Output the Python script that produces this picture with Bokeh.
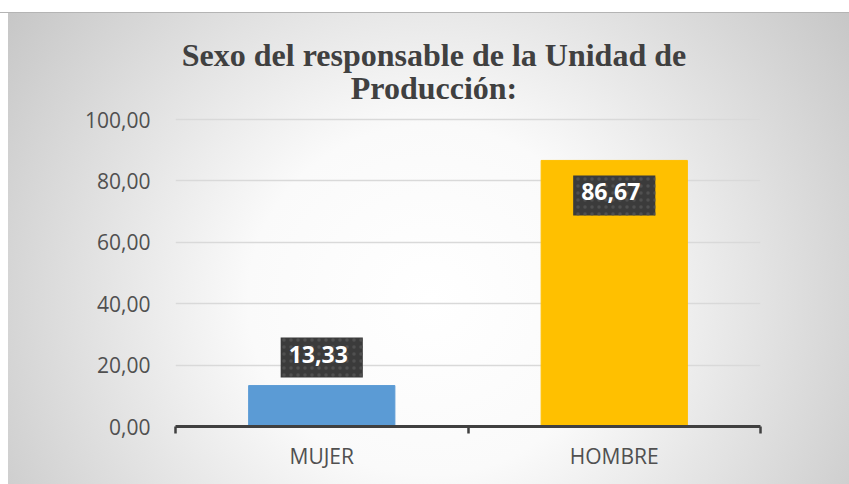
from bokeh.plotting import figure
from bokeh.models import Range1d, FixedTicker, Label, ColumnDataSource, GlobalInlineStyleSheet
from bokeh.embed import file_html
from bokeh.resources import INLINE

categories = ["MUJER", "HOMBRE"]
values = [13.33, 86.67]
y_ticks = [0, 20, 40, 60, 80, 100]
bar_colors = ["#5B9BD5", "#FFC000"]
title_lines = ["Sexo del responsable de la Unidad de", "Producción:"]


def fmt(v):
    return f"{v:.2f}".replace(".", ",")


y_max = y_ticks[-1]
x_pos = [i + 0.5 for i in range(len(categories))]

# frame spans from y=20px (top) to y=426px; the value 100 sits at y=119px
y_top = y_max * (426 - 20) / (426 - 119)

bg = ("linear-gradient(to bottom, #ffffff 0px, #ffffff 12px, #b4b4b4 12px, #b4b4b4 13px, transparent 13px), "
      "linear-gradient(to right, #ffffff 0px, #ffffff 8px, transparent 8px), "
      "radial-gradient(ellipse 520px 500px at 430px 300px, #ffffff 0%, #fafafa 35%, #c6c6c6 100%)")

page_css = GlobalInlineStyleSheet(
    css="html, body { margin: 0 !important; padding: 0 !important; overflow: hidden !important; "
        "scrollbar-width: none !important; } ::-webkit-scrollbar { display: none; width: 0; height: 0; }")

p = figure(width=849, height=484, output_backend="svg", toolbar_location=None,
           x_range=Range1d(0, len(categories)), y_range=Range1d(0, y_top),
           min_border_left=175, min_border_right=89, min_border_top=20, min_border_bottom=58,
           background_fill_color=None, border_fill_color=None, outline_line_color=None,
           styles={"background": bg, "position": "absolute", "top": "0px", "left": "0px"},
           stylesheets=[page_css])

src = ColumnDataSource(dict(x=x_pos, top=values, color=bar_colors))
p.vbar(x="x", top="top", width=0.5, color="color", source=src)

# title as two labels above the value area
x_mid = len(categories) / 2
for line, off in zip(title_lines, (65, 32)):
    p.add_layout(Label(x=x_mid, y=y_max, x_offset=-34, y_offset=off, text=line,
                       text_align="center", text_baseline="alphabetic",
                       text_font="Liberation Serif", text_font_style="bold",
                       text_font_size="32px", text_color="#404040"))

# grid
p.xgrid.grid_line_color = None
p.ygrid.ticker = FixedTicker(ticks=y_ticks)
p.ygrid.grid_line_color = "#d9d9d9"
p.ygrid.grid_line_width = 1.5

# y axis
p.yaxis.ticker = FixedTicker(ticks=y_ticks)
p.yaxis.major_label_overrides = {t: fmt(t) for t in y_ticks}
p.yaxis.axis_line_color = None
p.yaxis.major_tick_line_color = None
p.yaxis.minor_tick_line_color = None
p.yaxis.major_label_standoff = 19
p.yaxis.major_label_text_font = "Open Sans"
p.yaxis.major_label_text_font_size = "21px"
p.yaxis.major_label_text_color = "#505050"

# x axis
p.xaxis.ticker = FixedTicker(ticks=x_pos, minor_ticks=list(range(len(categories) + 1)))
p.xaxis.major_label_overrides = {x: c for x, c in zip(x_pos, categories)}
p.xaxis.major_tick_line_color = None
p.xaxis.minor_tick_in = 0
p.xaxis.minor_tick_out = 7
p.xaxis.minor_tick_line_color = "#404040"
p.xaxis.minor_tick_line_width = 2.5
p.xaxis.axis_line_color = "#404040"
p.xaxis.axis_line_width = 3
p.xaxis.major_label_standoff = 8
p.xaxis.major_label_text_font = "Open Sans"
p.xaxis.major_label_text_font_size = "21px"
p.xaxis.major_label_text_color = "#505050"

# data labels
for xv, v in zip(x_pos, values):
    inside = v > 0.8 * y_max
    off = -35 if inside else 28
    common = dict(x=xv, y=v, text=fmt(v), text_align="center", text_baseline="middle",
                  text_font="Open Sans", text_font_style="bold", text_font_size="23px",
                  padding=(8, 15, 8, 15))
    for k, a in ((5, 0.10), (4, 0.15), (3, 0.2)):
        p.add_layout(Label(x_offset=k, y_offset=off - k, text_alpha=0,
                           background_fill_color="black", background_fill_alpha=a, **common))
    p.add_layout(Label(x_offset=0, y_offset=off, text_color="white",
                       background_fill_color="#3b3b3b",
                       background_hatch_pattern="dot", background_hatch_color="#505050",
                       background_hatch_scale=7, background_hatch_weight=1.5, **common))

open("out.html", "w").write(file_html(p, INLINE))
